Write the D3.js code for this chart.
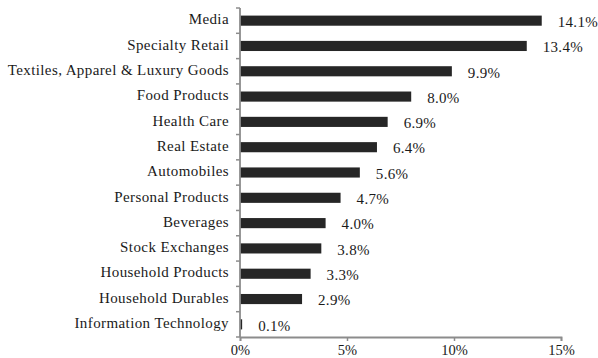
<!DOCTYPE html>
<html>
<head>
<meta charset="utf-8">
<script src="https://cdn.jsdelivr.net/npm/d3@7"></script>
<style>
  html, body { margin: 0; padding: 0; background: #fff; }
  svg { display: block; }
  text { font-family: "Liberation Serif", "DejaVu Serif", serif; fill: #1a1a1a; }
</style>
</head>
<body>
<svg id="chart" width="598" height="358"></svg>
<script>
// Sector weights (%), top to bottom
const categories = [
  "Media", "Specialty Retail", "Textiles, Apparel & Luxury Goods", "Food Products",
  "Health Care", "Real Estate", "Automobiles", "Personal Products", "Beverages",
  "Stock Exchanges", "Household Products", "Household Durables", "Information Technology"
];
const values = [14.1, 13.4, 9.9, 8.0, 6.9, 6.4, 5.6, 4.7, 4.0, 3.8, 3.3, 2.9, 0.1];
const xTicks = [0, 5, 10, 15];

const svg = d3.select("#chart");
const margin = { top: 8, right: 37, bottom: 21, left: 240 };
const width = 598 - margin.left - margin.right;
const height = 358 - margin.top - margin.bottom;

const g = svg.append("g").attr("transform", `translate(${margin.left},${margin.top})`);

const x = d3.scaleLinear().domain([0, 15]).range([0, width]);
const y = d3.scaleBand().domain(categories).range([0, height]).paddingInner(0.6).paddingOuter(0.3);

// Bars
g.selectAll("rect.bar")
  .data(values)
  .join("rect")
  .attr("class", "bar")
  .attr("x", 0)
  .attr("y", (d, i) => y(categories[i]))
  .attr("width", d => x(d))
  .attr("height", y.bandwidth())
  .attr("fill", "#262626");

// Value labels
g.selectAll("text.val")
  .data(values)
  .join("text")
  .attr("class", "val")
  .attr("x", d => x(d) + 16)
  .attr("y", (d, i) => y(categories[i]) + y.bandwidth() / 2 + 1)
  .attr("dy", "0.35em")
  .attr("font-size", 15)
  .attr("letter-spacing", 0.3)
  .text(d => d.toFixed(1) + "%");

// Category axis with boundary ticks
const step = height / categories.length;
g.append("line")
  .attr("x1", 0).attr("x2", 0).attr("y1", 0).attr("y2", height)
  .attr("stroke", "#8c8c8c").attr("stroke-width", 1.8);
g.selectAll("line.ytick")
  .data(d3.range(categories.length + 1))
  .join("line")
  .attr("class", "ytick")
  .attr("x1", -4).attr("x2", 0)
  .attr("y1", i => i * step).attr("y2", i => i * step)
  .attr("stroke", "#8c8c8c").attr("stroke-width", 1.5);
g.selectAll("text.cat")
  .data(categories)
  .join("text")
  .attr("class", "cat")
  .attr("x", -11)
  .attr("y", d => y(d) + y.bandwidth() / 2 - 1.5)
  .attr("dy", "0.35em")
  .attr("text-anchor", "end")
  .attr("font-size", 15)
  .attr("letter-spacing", 0.4)
  .text(d => d);

// Value axis
const xAxis = d3.axisBottom(x).tickValues(xTicks).tickFormat(d => d + "%").tickSize(4).tickPadding(4);
const xa = g.append("g").attr("transform", `translate(0,${height})`).call(xAxis);
xa.select(".domain").attr("stroke", "#8c8c8c").attr("stroke-width", 1.8);
xa.selectAll(".tick line").attr("stroke", "#8c8c8c").attr("stroke-width", 1.5);
xa.selectAll(".tick text").attr("font-size", 14.5).attr("font-family", "Liberation Serif, serif").attr("fill", "#1a1a1a");
</script>
</body>
</html>
